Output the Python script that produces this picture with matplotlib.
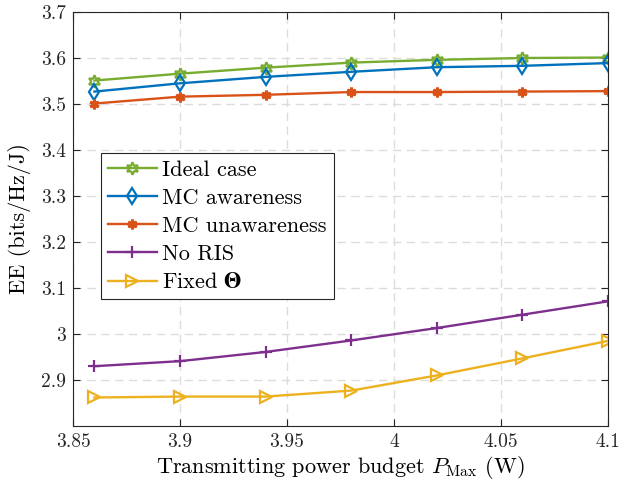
import matplotlib
matplotlib.use('Agg')
import matplotlib.pyplot as plt
import numpy as np

plt.rcParams['font.family'] = 'serif'
plt.rcParams['font.serif'] = ['cmr10']
plt.rcParams['mathtext.fontset'] = 'cm'
plt.rcParams['axes.formatter.use_mathtext'] = True

p_max = [3.86, 3.90, 3.94, 3.98, 4.02, 4.06, 4.10]

ee_ideal = [3.551, 3.566, 3.579, 3.590, 3.596, 3.600, 3.601]
ee_mc_aware = [3.527, 3.545, 3.559, 3.570, 3.580, 3.583, 3.589]
ee_mc_unaware = [3.501, 3.516, 3.520, 3.526, 3.526, 3.527, 3.528]
ee_no_ris = [2.930, 2.941, 2.961, 2.986, 3.013, 3.042, 3.071]
ee_fixed = [2.862, 2.864, 2.864, 2.877, 2.910, 2.947, 2.985]

labels = ['Ideal case', 'MC awareness', 'MC unawareness', 'No RIS',
          r'Fixed $\mathbf{\Theta}$']

tick_fs = 14
label_fs = 16

fig = plt.figure(figsize=(6.21, 4.90), dpi=100)
ax = fig.add_axes([0.1176, 0.1306, 0.8615, 0.8449])

lw = 1.7
ax.plot(p_max, ee_ideal, color='#77AC30', lw=lw, marker=(6, 1, 0), ms=9,
        mfc='none', mew=1.6, label=labels[0])
ax.plot(p_max, ee_mc_aware, color='#0072BD', lw=lw, marker='d', ms=8,
        mfc='none', mew=1.6, label=labels[1])
ax.plot(p_max, ee_mc_unaware, color='#D95319', lw=lw, marker=(6, 2, 0), ms=7,
        mew=2.2, label=labels[2])
ax.plot(p_max, ee_no_ris, color='#7E2F8E', lw=lw, marker='+', ms=9,
        mew=1.6, label=labels[3])
ax.plot(p_max, ee_fixed, color='#EDB120', lw=lw, marker='>', ms=9,
        mfc='none', mew=1.6, label=labels[4])

ax.set_xlim(3.85, 4.1)
ax.set_ylim(2.8, 3.7)
ax.set_xticks([3.85, 3.9, 3.95, 4.0, 4.05, 4.1])
ax.set_xticklabels(['3.85', '3.9', '3.95', '4', '4.05', '4.1'])
ax.set_yticks(np.round(np.arange(2.9, 3.71, 0.1), 1))
ax.set_yticklabels(['2.9', '3', '3.1', '3.2', '3.3', '3.4', '3.5', '3.6', '3.7'])
ax.tick_params(direction='in', top=True, right=True, labelsize=tick_fs,
               length=5, width=0.8, colors='#262626', pad=5)
for s in ax.spines.values():
    s.set_color('#262626')
    s.set_linewidth(0.8)

ax.grid(True, ls=(0, (6, 4)), color='#dcdcdc', lw=1.0)
ax.set_axisbelow(True)

ax.set_xlabel(r'Transmitting power budget $P_{\mathrm{Max}}$ (W)',
              fontsize=label_fs, labelpad=2)
ax.set_ylabel('EE (bits/Hz/J)', fontsize=label_fs, labelpad=7)

leg = ax.legend(loc='upper left', bbox_to_anchor=(0.052, 0.659),
                fontsize=label_fs, fancybox=False, framealpha=1,
                edgecolor='#262626', handlelength=2.2, handletextpad=0.25,
                labelspacing=0.38, borderpad=0.32, borderaxespad=0)
leg.get_frame().set_linewidth(0.8)
leg.get_texts()[4].set_math_fontfamily('stix')

fig.savefig('out.png', dpi=100)
